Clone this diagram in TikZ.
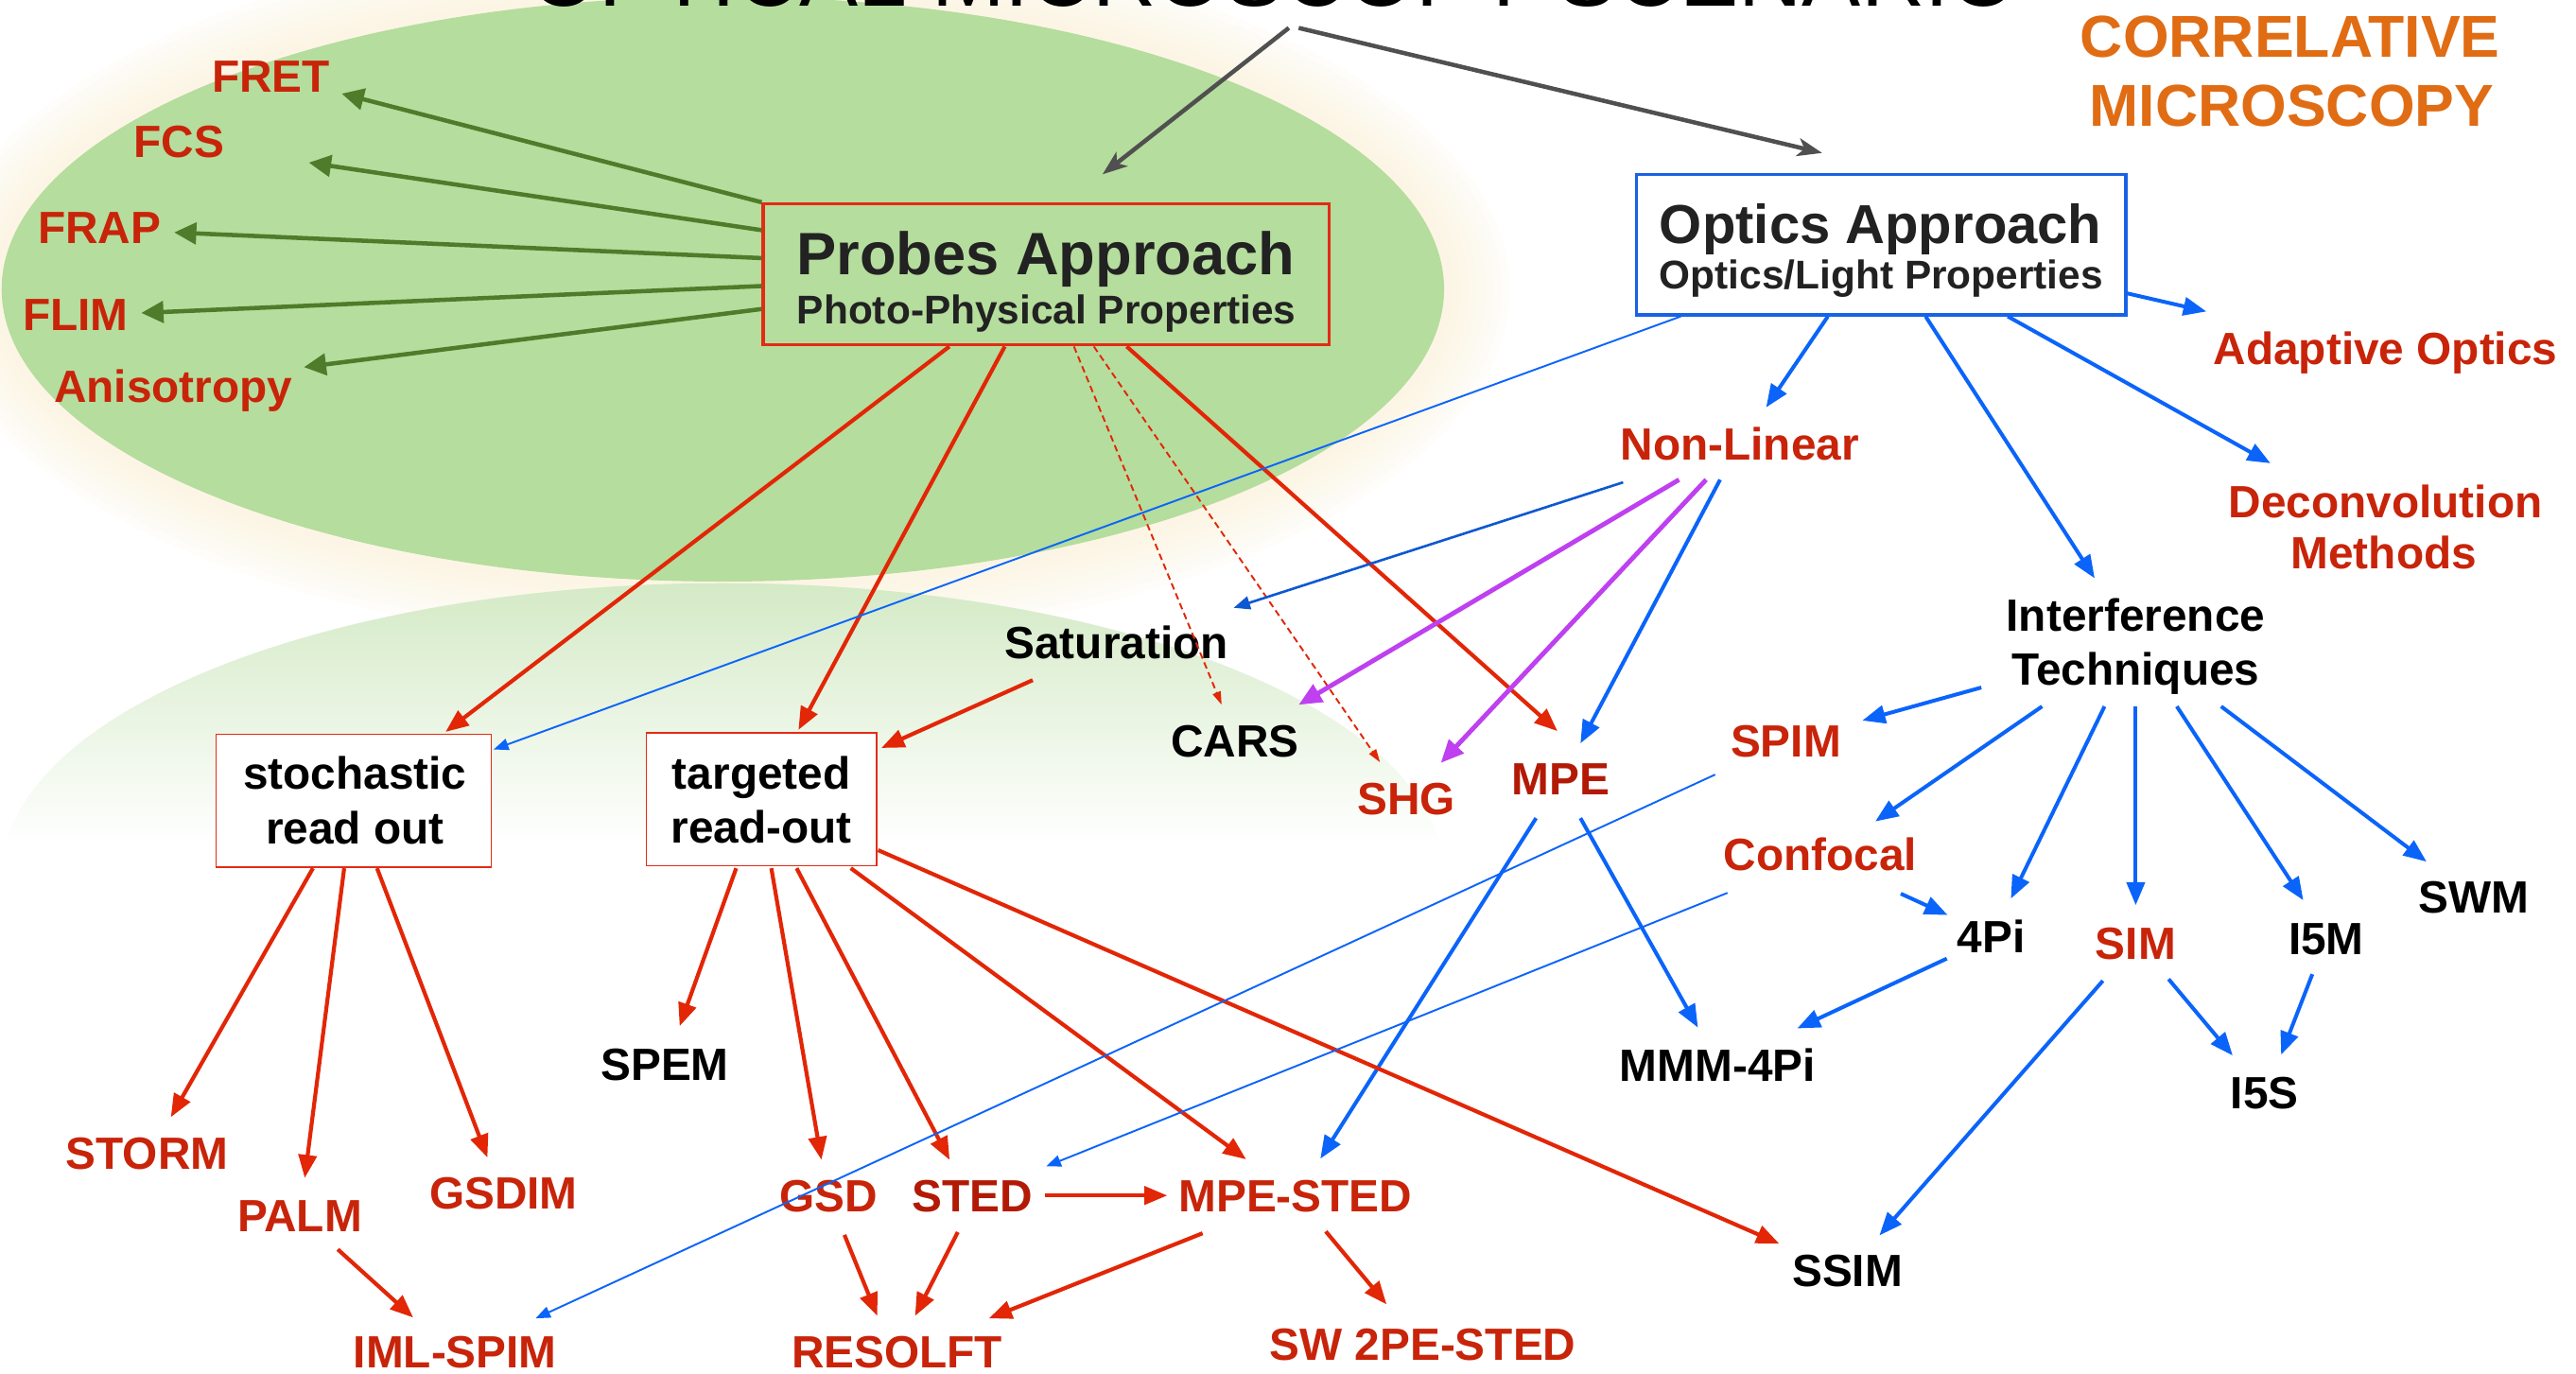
\documentclass[tikz,border=0pt]{standalone}
\usepackage{fontspec}
\setmainfont{Liberation Sans}
\usetikzlibrary{arrows.meta}
\definecolor{greenc}{RGB}{181,221,157}
\definecolor{glowc}{RGB}{252,245,220}
\definecolor{reflc}{RGB}{212,234,198}
\definecolor{labred}{RGB}{200,36,10}
\definecolor{darkred}{RGB}{178,26,6}
\definecolor{arrred}{RGB}{226,38,6}
\definecolor{boxred}{RGB}{226,44,20}
\definecolor{arrblue}{RGB}{10,100,250}
\definecolor{medblue}{RGB}{14,88,210}
\definecolor{boxblue}{RGB}{24,98,230}
\definecolor{purp}{RGB}{190,64,240}
\definecolor{garr}{RGB}{78,124,42}
\definecolor{grayc}{RGB}{80,80,80}
\definecolor{orangec}{RGB}{224,108,20}
\definecolor{inkc}{RGB}{34,34,34}
\begin{document}
\begin{tikzpicture}[x=1pt,y=-1pt,
  lbl/.style={font=\bfseries\fontsize{27.5}{30}\selectfont, inner sep=0pt, anchor=base},
  rlbl/.style={lbl, text=labred},
  klbl/.style={lbl, text=black},
  hdA/.style={anchor=base west, inner sep=0pt, text=inkc},
  redarr/.style={draw=arrred, line width=2.4pt, -{Triangle[length=14pt,width=11pt]}},
  bluearr/.style={draw=arrblue, line width=2.3pt, -{Triangle[length=14pt,width=11pt]}},
  thinblue/.style={draw=arrblue, line width=1.1pt, -{Triangle[length=9pt,width=7pt]}},
  medbluearr/.style={draw=medblue, line width=1.5pt, -{Triangle[length=10pt,width=8pt]}},
  dashred/.style={draw=arrred, line width=1.1pt, dash pattern=on 4pt off 2.5pt, -{Triangle[length=8pt,width=5pt]}},
  purplearr/.style={draw=purp, line width=2.8pt, -{Triangle[length=14pt,width=12pt]}},
  greenarr/.style={draw=garr, line width=2.6pt, -{Triangle[length=13.5pt,width=13pt]}},
  grayarr/.style={draw=grayc, line width=2.6pt, -{Stealth[length=15pt,width=11pt,inset=4pt]}},
  redbox/.style={draw=boxred, line width=1pt, fill=white, inner sep=0pt}
]
\useasboundingbox (0,0) rectangle (1568,836);
\clip (0,0) rectangle (1568,836);
\fill[white] (0,0) rectangle (1568,836);
% glow
\foreach \k in {8,7,...,1}{
  \fill[glowc, opacity=0.13] (440,176) ellipse [x radius={439pt+5pt*\k}, y radius={178pt+5pt*\k}];
}
% reflection
\begin{scope}
  \clip (440,533) ellipse [x radius=439pt, y radius=178pt];
  \shade[top color=reflc, bottom color=white] (0,355) rectangle (880,515);
  \fill[white] (0,514) rectangle (880,720);
\end{scope}
% green ellipse
\fill[greenc] (440,176) ellipse [x radius=439pt, y radius=178pt];

% title (cut off at top, as in the original)
\node[anchor=base, inner sep=0pt, font=\fontsize{53.6}{60}\selectfont] (title) at (775.5,4) {OPTICAL MICROSCOPY SCENARIO};
\node[lbl, font=\bfseries\fontsize{36}{40}\selectfont, text=orangec] (corr1) at (1394,35) {CORRELATIVE};
\node[lbl, font=\bfseries\fontsize{36}{40}\selectfont, text=orangec] (corr2) at (1395,77) {MICROSCOPY};

% boxes
\node[draw=boxred, line width=1.8pt, minimum width=344.5pt, minimum height=86pt, inner sep=0pt] (probes) at (636.75,167) {};
\node[draw=boxblue, fill=white, line width=1.8pt, minimum width=298pt, minimum height=85.7pt, inner sep=0pt] (optics) at (1145,148.85) {};
\node[redbox, minimum width=167.5pt, minimum height=81pt] (stoch) at (215.25,487.5) {};
\node[redbox, minimum width=140pt, minimum height=81pt] (targ) at (463.5,486.5) {};

\node[hdA, font=\bfseries\fontsize{36.4}{40}\selectfont] (probesA) at (484.6,167) {Probes Approach};
\node[hdA, font=\bfseries\fontsize{24.4}{28}\selectfont] (probesB) at (485,197) {Photo-Physical Properties};
\node[hdA, font=\bfseries\fontsize{33.4}{38}\selectfont] (opticsA) at (1010,148) {Optics Approach};
\node[hdA, font=\bfseries\fontsize{24.4}{28}\selectfont] (opticsB) at (1010,175.6) {Optics/Light Properties};

\node[klbl] (stochA) at (216,480.6) {stochastic};
\node[klbl] (stochB) at (216,513.6) {read out};
\node[klbl] (targA) at (463.5,480.6) {targeted};
\node[klbl] (targB) at (463.5,513.4) {read-out};

% labels
\node[rlbl] (fret) at (165,56) {FRET};
\node[rlbl] (fcs) at (109,96) {FCS};
\node[rlbl] (frap) at (60.5,148) {FRAP};
\node[rlbl] (flim) at (46,201) {FLIM};
\node[rlbl] (aniso) at (105.5,245) {Anisotropy};
\node[klbl] (sat) at (679.6,401) {Saturation};
\node[klbl] (cars) at (751.6,460.5) {CARS};
\node[rlbl] (shg) at (856,496) {SHG};
\node[rlbl, text=darkred] (mpe) at (950,483.6) {MPE};
\node[rlbl] (nonlin) at (1059,280) {Non-Linear};
\node[rlbl] (adaptive) at (1452,222) {Adaptive Optics};
\node[rlbl] (deconv1) at (1452,315) {Deconvolution};
\node[rlbl] (deconv2) at (1451,346) {Methods};
\node[klbl] (int1) at (1300,384) {Interference};
\node[klbl] (int2) at (1300,417) {Techniques};
\node[rlbl] (spim) at (1087,461) {SPIM};
\node[rlbl] (confocal) at (1108,530) {Confocal};
\node[klbl] (fourpi) at (1212,580) {4Pi};
\node[rlbl] (sim) at (1300,584) {SIM};
\node[klbl] (ifm) at (1416,581) {I5M};
\node[klbl] (swm) at (1506,556) {SWM};
\node[klbl] (mmm) at (1045.5,658) {MMM-4Pi};
\node[klbl] (ifs) at (1378.5,675) {I5S};
\node[klbl] (ssim) at (1124.5,783) {SSIM};
\node[klbl] (spem) at (404.7,657.5) {SPEM};
\node[rlbl] (storm) at (89.5,711.6) {STORM};
\node[rlbl] (palm) at (182.5,750) {PALM};
\node[rlbl] (gsdim) at (306.5,736) {GSDIM};
\node[rlbl] (gsd) at (504.5,737.5) {GSD};
\node[rlbl, text=darkred] (sted) at (592,737.5) {STED};
\node[rlbl] (mpested) at (788.5,737.5) {MPE-STED};
\node[rlbl] (resolft) at (546,832.5) {RESOLFT};
\node[rlbl] (iml) at (277,832.5) {IML-SPIM};
\node[rlbl] (sw) at (866,828) {SW 2PE-STED};

% green arrows
\draw[greenarr] (probes.north west) -- ([shift={(43,1)}]fret.base);
\draw[greenarr] ([shift={(0,17)}]probes.north west) -- ([shift={(79,3)}]fcs.base);
\draw[greenarr] ([shift={(0,34)}]probes.north west) -- ([shift={(45.5,-6.5)}]frap.base);
\draw[greenarr] ([shift={(0,51)}]probes.north west) -- ([shift={(40,-10.5)}]flim.base);
\draw[greenarr] ([shift={(0,65)}]probes.north west) -- ([shift={(79.5,-21.5)}]aniso.base);

% gray arrows
\draw[grayarr] ([shift={(9,13)}]title.base) -- ([shift={(207.5,-17)}]probes.north west);
\draw[grayarr] ([shift={(15,13)}]title.base) -- ([shift={(114,-12)}]optics.north west);

% probes outgoing
\draw[redarr] ([shift={(114.3,0)}]probes.south west) -- ([shift={(140.2,-1)}]stoch.north west);
\draw[redarr] ([shift={(148,0)}]probes.south west) -- ([shift={(93,-1.2)}]targ.north west);
\draw[dashred] ([shift={(190.1,0)}]probes.south west) -- ([shift={(-8,-31.5)}]cars.base);
\draw[dashred] ([shift={(202.2,0)}]probes.south west) -- ([shift={(-16,-32)}]shg.base);
\draw[redarr] ([shift={(222.2,0)}]probes.south west) -- ([shift={(-2,-38.6)}]mpe.base);
\draw[redarr] ([shift={(-51,13)}]sat.base) -- ([shift={(2.5,9.8)}]targ.north east);

% optics outgoing
\draw[thinblue] ([shift={(28,0)}]optics.south west) -- ([shift={(1,9.7)}]stoch.north east);
\draw[bluearr] ([shift={(117.5,0)}]optics.south west) -- ([shift={(16,-32)}]nonlin.base);
\draw[bluearr] ([shift={(177,0)}]optics.south west) -- ([shift={(-25,-32)}]int1.base);
\draw[bluearr] ([shift={(227,0)}]optics.south west) -- ([shift={(-70,-33)}]deconv1.base);
\draw[bluearr] ([shift={(0,73.5)}]optics.north east) -- ([shift={(-109,-32.4)}]adaptive.base);

% non-linear
\draw[medbluearr] ([shift={(-71,13.6)}]nonlin.base) -- ([shift={(71.3,-31)}]sat.base);
\draw[purplearr] ([shift={(-37,12)}]nonlin.base) -- ([shift={(38.9,-31.5)}]cars.base);
\draw[purplearr] ([shift={(-20.5,12)}]nonlin.base) -- ([shift={(21,-31.6)}]shg.base);
\draw[bluearr] ([shift={(-12,12)}]nonlin.base) -- ([shift={(12,-31.1)}]mpe.base);

% MPE
\draw[bluearr] ([shift={(-15,14.4)}]mpe.base) -- ([shift={(15.2,-32.2)}]mpested.base);
\draw[bluearr] ([shift={(12,14.4)}]mpe.base) -- ([shift={(-12,-32.5)}]mmm.base);

% stochastic
\draw[redarr] ([shift={(59.5,0)}]stoch.south west) -- ([shift={(14.5,-31.6)}]storm.base);
\draw[redarr] ([shift={(78.5,0)}]stoch.south west) -- ([shift={(3,-33)}]palm.base);
\draw[redarr] ([shift={(98.5,0)}]stoch.south west) -- ([shift={(-9.8,-31.4)}]gsdim.base);

% targeted
\draw[redarr] ([shift={(55.1,1)}]targ.south west) -- ([shift={(9,-32.9)}]spem.base);
\draw[redarr] ([shift={(76.5,1)}]targ.south west) -- ([shift={(-4.5,-31.5)}]gsd.base);
\draw[redarr] ([shift={(91.9,1)}]targ.south west) -- ([shift={(-14,-31.5)}]sted.base);
\draw[redarr] ([shift={(124.9,1)}]targ.south west) -- ([shift={(-30,-31.8)}]mpested.base);
\draw[redarr] ([shift={(0.5,-10)}]targ.south east) -- ([shift={(-41.5,-26)}]ssim.base);

% lower
\draw[redarr] ([shift={(44,-9.8)}]sted.base) -- ([shift={(-78,-9.8)}]mpested.base);
\draw[redarr] ([shift={(9.5,14.2)}]gsd.base) -- ([shift={(-12,-31.5)}]resolft.base);
\draw[redarr] ([shift={(-9,12.5)}]sted.base) -- ([shift={(11,-31.5)}]resolft.base);
\draw[redarr] ([shift={(-56.5,13.2)}]mpested.base) -- ([shift={(56,-30)}]resolft.base);
\draw[redarr] ([shift={(18.5,12.1)}]mpested.base) -- ([shift={(-22,-34)}]sw.base);
\draw[redarr] ([shift={(23.1,10.5)}]palm.base) -- ([shift={(-25.5,-30.5)}]iml.base);
\draw[thinblue] ([shift={(-43,10.5)}]spim.base) -- ([shift={(49,-30)}]iml.base);
\draw[thinblue] ([shift={(-56.5,13.5)}]confocal.base) -- ([shift={(44.8,-27.5)}]sted.base);

% interference
\draw[bluearr] ([shift={(-94,1.5)}]int2.base) -- ([shift={(46.6,-22.4)}]spim.base);
\draw[bluearr] ([shift={(-57,13)}]int2.base) -- ([shift={(33.5,-30)}]confocal.base);
\draw[bluearr] ([shift={(-19,13)}]int2.base) -- ([shift={(12,-33)}]fourpi.base);
\draw[bluearr] ([shift={(0,13)}]int2.base) -- ([shift={(0,-33)}]sim.base);
\draw[bluearr] ([shift={(25,13)}]int2.base) -- ([shift={(-14,-33)}]ifm.base);
\draw[bluearr] ([shift={(52,13)}]int2.base) -- ([shift={(-29,-31.5)}]swm.base);
\draw[bluearr] ([shift={(49,14)}]confocal.base) -- ([shift={(-26.5,-23)}]fourpi.base);
\draw[bluearr] ([shift={(-27,3.5)}]fourpi.base) -- ([shift={(48.5,-32)}]mmm.base);
\draw[bluearr] ([shift={(-20,13)}]sim.base) -- ([shift={(19.5,-31)}]ssim.base);
\draw[bluearr] ([shift={(20,12)}]sim.base) -- ([shift={(-19.5,-32.5)}]ifs.base);
\draw[bluearr] ([shift={(-8.5,12)}]ifm.base) -- ([shift={(10,-33)}]ifs.base);
\end{tikzpicture}
\end{document}
